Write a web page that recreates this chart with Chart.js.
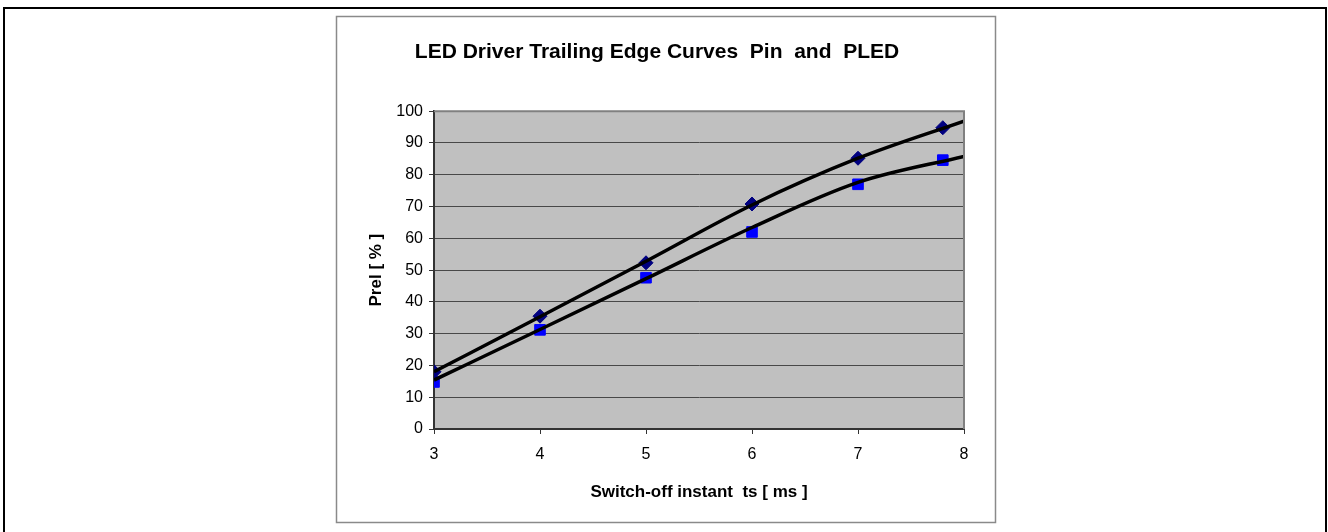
<!DOCTYPE html>
<html>
<head>
<meta charset="utf-8">
<script src="https://cdn.jsdelivr.net/npm/chart.js@4.4.1/dist/chart.umd.min.js"></script>
<style>
  html, body { margin: 0; padding: 0; background: #ffffff; }
  #wrap { width: 1328px; height: 532px; position: relative; }
</style>
</head>
<body>
<div id="wrap"><canvas id="c" width="1328" height="532"></canvas></div>
<script>
// ---- data ----
const titleText = 'LED Driver Trailing Edge Curves  Pin  and  PLED';
const xAxisTitle = 'Switch-off instant  ts [ ms ]';
const yAxisTitle = 'Prel [ % ]';

const measuredX = [3, 4, 5, 6, 7, 7.8];
const pinValues = [18, 35.5, 52.3, 70.8, 85.2, 94.8];
const pledValues = [14.8, 31.2, 47.6, 62, 77, 84.6];

const trendX = [3, 4, 5, 6, 7, 8];
const pinTrend = [18, 35.3, 52.8, 70.5, 85.2, 96.9];
const pledTrend = [15.4, 31.3, 47.3, 63.4, 77.6, 85.8];

const xTicks = [3, 4, 5, 6, 7, 8];
const yTicks = [0, 10, 20, 30, 40, 50, 60, 70, 80, 90, 100];

const toPts = (xs, ys) => xs.map((x, i) => ({ x: x, y: ys[i] }));

const FONT = "'Liberation Sans', Arial, sans-serif";

const framePlugin = {
  id: 'frames',
  beforeDraw(chart) {
    const ctx = chart.ctx;
    const a = chart.chartArea;
    ctx.save();
    ctx.fillStyle = '#ffffff';
    ctx.fillRect(0, 0, chart.width, chart.height);
    // outer frame
    ctx.strokeStyle = '#000000';
    ctx.lineWidth = 2;
    ctx.strokeRect(4, 8, 1322, 540);
    // chart box
    ctx.strokeStyle = '#8a8a8a';
    ctx.lineWidth = 1.5;
    ctx.strokeRect(336.5, 16.5, 659, 506);
    // plot area
    ctx.fillStyle = '#c0c0c0';
    ctx.fillRect(a.left, a.top, a.right - a.left, a.bottom - a.top);
    ctx.restore();
  },
  afterDatasetsDraw(chart) {
    const ctx = chart.ctx;
    const a = chart.chartArea;
    ctx.save();
    ctx.strokeStyle = '#808080';
    ctx.lineWidth = 2;
    ctx.beginPath();
    ctx.moveTo(a.left, a.top);
    ctx.lineTo(a.right, a.top);
    ctx.lineTo(a.right, a.bottom);
    ctx.stroke();
    ctx.restore();
  }
};

new Chart(document.getElementById('c'), {
  type: 'scatter',
  data: {
    datasets: [
      {
        label: 'Pin trend',
        type: 'line',
        data: toPts(trendX, pinTrend),
        borderColor: '#000000',
        borderWidth: 3.5,
        pointRadius: 0,
        fill: false,
        cubicInterpolationMode: 'monotone',
        order: 1
      },
      {
        label: 'PLED trend',
        type: 'line',
        data: toPts(trendX, pledTrend),
        borderColor: '#000000',
        borderWidth: 3.5,
        pointRadius: 0,
        fill: false,
        cubicInterpolationMode: 'monotone',
        order: 1
      },
      {
        label: 'Pin',
        data: toPts(measuredX, pinValues),
        pointStyle: 'rectRot',
        pointRadius: 7,
        backgroundColor: '#000080',
        borderColor: '#000080',
        borderWidth: 1,
        order: 2
      },
      {
        label: 'PLED',
        data: toPts(measuredX, pledValues),
        pointStyle: 'rect',
        pointRadius: 7.5,
        backgroundColor: '#0000ff',
        borderColor: '#0000ff',
        borderWidth: 1,
        order: 2
      }
    ]
  },
  options: {
    responsive: false,
    animation: false,
    layout: { padding: { left: 350, right: 364, top: 0, bottom: 0 } },
    plugins: {
      legend: { display: false },
      tooltip: { enabled: false },
      title: {
        display: true,
        text: titleText,
        color: '#000000',
        font: { family: FONT, size: 21, weight: 'bold' },
        padding: { top: 40, bottom: 46 }
      }
    },
    scales: {
      x: {
        type: 'linear',
        min: 3,
        max: 8,
        afterBuildTicks(scale) { scale.ticks = xTicks.map(v => ({ value: v })); },
        afterFit(scale) { scale.height = 103; },
        ticks: {
          color: '#000000',
          font: { family: FONT, size: 16 },
          padding: 11,
          callback: v => String(v)
        },
        grid: {
          drawOnChartArea: false,
          drawTicks: true,
          tickLength: 5,
          tickColor: '#333333',
          tickWidth: 1
        },
        border: { display: true, color: '#333333', width: 2 },
        title: {
          display: true,
          text: xAxisTitle,
          color: '#000000',
          font: { family: FONT, size: 17, weight: 'bold' },
          padding: { top: 0, bottom: 29 }
        }
      },
      y: {
        type: 'linear',
        min: 0,
        max: 100,
        afterBuildTicks(scale) { scale.ticks = yTicks.map(v => ({ value: v })); },
        afterFit(scale) { scale.width = 84; },
        ticks: {
          color: '#000000',
          font: { family: FONT, size: 16 },
          padding: 6,
          callback: v => String(v)
        },
        grid: {
          color: '#484848',
          lineWidth: 1,
          drawTicks: true,
          tickLength: 5,
          tickColor: '#333333'
        },
        border: { display: true, color: '#333333', width: 2 },
        title: {
          display: true,
          text: yAxisTitle,
          color: '#000000',
          font: { family: FONT, size: 17, weight: 'bold' },
          padding: { top: 16, bottom: 0 }
        }
      }
    }
  },
  plugins: [framePlugin]
});
</script>
</body>
</html>
